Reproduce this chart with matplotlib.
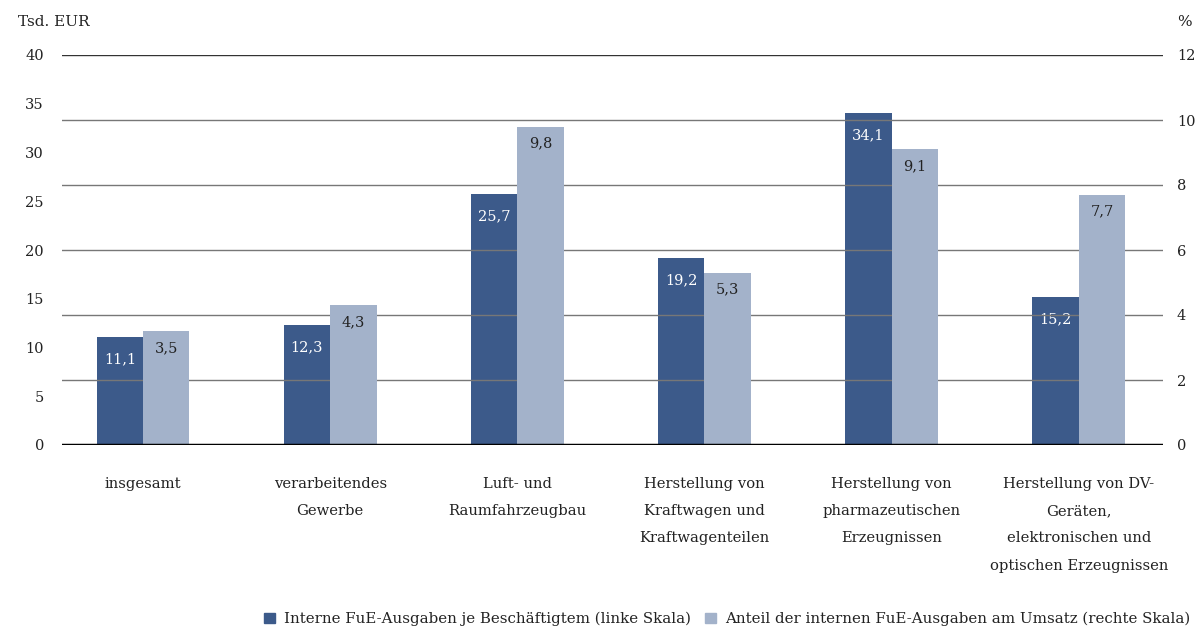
import matplotlib
matplotlib.use("Agg")
import matplotlib.pyplot as plt
import numpy as np

categories = [
    "insgesamt",
    "verarbeitendes\nGewerbe",
    "Luft- und\nRaumfahrzeugbau",
    "Herstellung von\nKraftwagen und\nKraftwagenteilen",
    "Herstellung von\npharmazeutischen\nErzeugnissen",
    "Herstellung von DV-\nGeräten,\nelektronischen und\noptischen Erzeugnissen",
]
ausgaben_je_beschaeftigtem = [11.1, 12.3, 25.7, 19.2, 34.1, 15.2]   # Tsd. EUR
anteil_am_umsatz = [3.5, 4.3, 9.8, 5.3, 9.1, 7.7]                   # %
left_ticks = [0, 5, 10, 15, 20, 25, 30, 35, 40]
right_ticks = [0, 2, 4, 6, 8, 10, 12]
series_names = [
    "Interne FuE-Ausgaben je Beschäftigtem (linke Skala)",
    "Anteil der internen FuE-Ausgaben am Umsatz (rechte Skala)",
]

dark = "#3c5a8a"
light = "#a3b2ca"
text_col = "#222222"

plt.rcParams["font.family"] = ["DejaVu Serif", "DejaVu Sans"]

fig = plt.figure(figsize=(11.97, 6.28), dpi=100)
ax = fig.add_axes([62 / 1197, 1 - 445 / 628, (1163 - 62) / 1197, 390 / 628])
ax2 = ax.twinx()

x = np.arange(len(categories))
w = 0.248

ax.set_ylim(0, 40)
ax2.set_ylim(0, 12)
ax.set_xlim(-0.433, 5.45)

# horizontal grid follows the right-hand scale
for t in right_ticks[1:]:
    ax2.axhline(t, color="#333333" if t == 12 else "#777777", lw=1.0, zorder=0)

b1 = ax.bar(x - w / 2, ausgaben_je_beschaeftigtem, width=w, color=dark, zorder=3)
b2 = ax2.bar(x + w / 2, anteil_am_umsatz, width=w, color=light, zorder=3)
ax2.axhline(0, color="black", lw=2.5, zorder=5)

for rect, v in zip(b1, ausgaben_je_beschaeftigtem):
    ax.annotate(f"{v:.1f}".replace(".", ","),
                (rect.get_x() + rect.get_width() / 2, v),
                xytext=(0, -11), textcoords="offset points",
                ha="center", va="top", color="white", fontsize=10.5, zorder=6)
for rect, v in zip(b2, anteil_am_umsatz):
    ax2.annotate(f"{v:.1f}".replace(".", ","),
                 (rect.get_x() + rect.get_width() / 2, v),
                 xytext=(0, -7), textcoords="offset points",
                 ha="center", va="top", color=text_col, fontsize=10.5, zorder=6)

ax2.set_zorder(ax.get_zorder() + 1)
ax2.patch.set_visible(False)

for a in (ax, ax2):
    for s in a.spines.values():
        s.set_visible(False)

ax.set_yticks(left_ticks)
ax.set_yticklabels([str(t) for t in left_ticks])
ax2.set_yticks(right_ticks)
ax2.set_yticklabels([str(t) for t in right_ticks])
ax.tick_params(axis="y", length=0, pad=13, labelsize=10.5, labelcolor=text_col)
ax2.tick_params(axis="y", length=0, pad=10, labelsize=10.5, labelcolor=text_col)

ax.set_xticks(x)
ax.set_xticklabels(categories, fontsize=10.6, color=text_col, linespacing=2.2)
ax.tick_params(axis="x", length=0, pad=23)

fig.text(18 / 1197, 1 - 22 / 628, "Tsd. EUR", fontsize=11, color=text_col,
         ha="left", va="center")
fig.text(1192 / 1197, 1 - 22 / 628, "%", fontsize=11, color=text_col,
         ha="right", va="center")

handles = [plt.Rectangle((0, 0), 1, 1, color=dark),
           plt.Rectangle((0, 0), 1, 1, color=light)]
fig.legend(handles, series_names, loc="center right",
           bbox_to_anchor=(1196 / 1197, 1 - 619 / 628), ncol=2, frameon=False,
           fontsize=10.8, handlelength=0.7, handleheight=0.7, handletextpad=0.6,
           columnspacing=1.0, labelcolor=text_col, borderaxespad=0)

fig.savefig("out.png", dpi=100)
